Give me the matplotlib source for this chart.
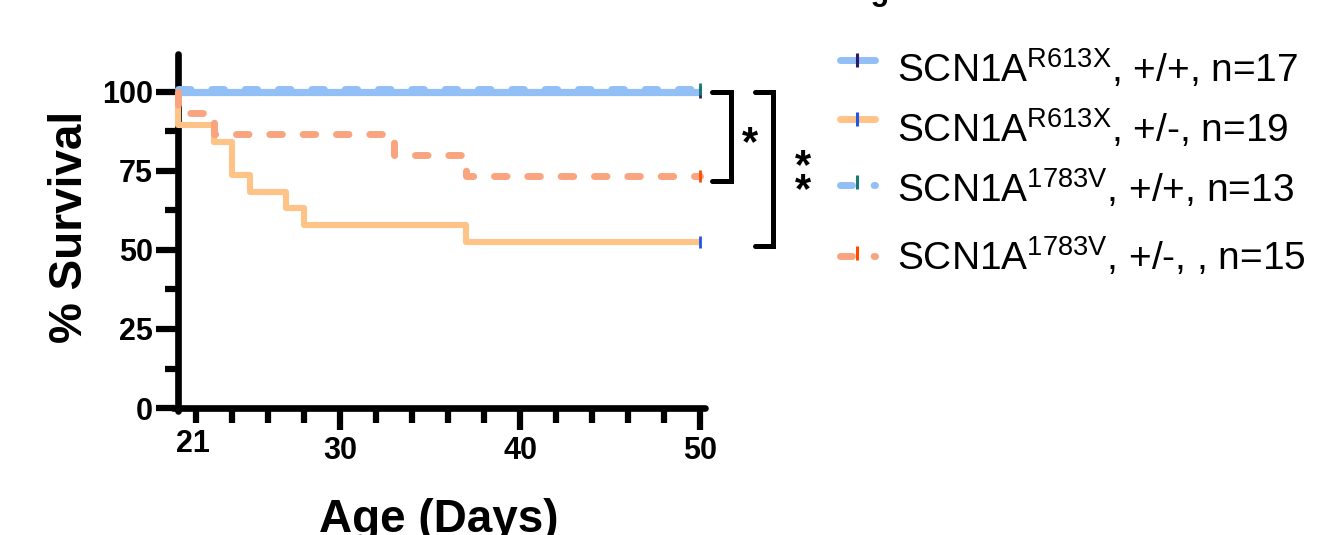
import matplotlib
matplotlib.use("Agg")
import matplotlib.pyplot as plt
import matplotlib.transforms as mtransforms
from matplotlib.ticker import FixedLocator

plt.rcParams['font.family'] = ['Liberation Sans', 'DejaVu Sans']
plt.rcParams['mathtext.fontset'] = 'custom'
plt.rcParams['mathtext.rm'] = 'Liberation Sans'
plt.rcParams['lines.scale_dashes'] = False

# --- data ---
groups = ['R613X +/+', 'R613X +/-', '1783V +/+', '1783V +/-']
days = [
    [21, 50],
    [21, 21, 23, 24, 25, 27, 28, 37, 50],
    [21, 50],
    [21, 21, 23, 33, 37, 50],
]
survival = [
    [100, 100],
    [100, 89.5, 84.2, 73.7, 68.4, 63.2, 57.9, 52.6, 52.6],
    [100, 100],
    [100, 93.3, 86.7, 80.0, 73.3, 73.3],
]
legend_labels = [
    r'SCN1A$^{\mathregular{R613X}}$, +/+, n=17',
    r'SCN1A$^{\mathregular{R613X}}$, +/-, n=19',
    r'SCN1A$^{\mathregular{1783V}}$, +/+, n=13',
    r'SCN1A$^{\mathregular{1783V}}$, +/-, , n=15',
]
# significance brackets: (group a, group b, label)
comparisons = [(0, 3, '*'), (0, 1, '*\n*')]

# --- styles ---
line_cols = ['#92BFF5', '#FFC387', '#92BFF5', '#F9A47F']
censor_cols = ['#2D1B66', '#1F55E8', '#177A78', '#FF4A00']
dashed = [False, False, True, True]
widths = [5.2, 4.4, 5.0, 5.0]
dash_pat = (0, (9, 15))

fig = plt.figure(figsize=(13.23, 5.35), dpi=100)
ax = fig.add_axes([0.1305, 0.2314, 0.4027, 0.668])
ax.set_xlim(20.7, 50.3)
ax.set_ylim(-1, 112)

lift = mtransforms.ScaledTranslation(0, 0.03, fig.dpi_scale_trans)
for i in range(4):
    tr = ax.transData + lift if i == 2 else ax.transData
    ls = dash_pat if dashed[i] else '-'
    ax.plot(days[i], survival[i], drawstyle='steps-post', color=line_cols[i],
            lw=widths[i], linestyle=ls, dash_capstyle='round',
            solid_capstyle='butt', transform=tr, clip_on=False, zorder=3 + (i % 2))
    ax.plot(days[i][-1], survival[i][-1], marker='|', ms=9, mew=2,
            color=censor_cols[i], transform=tr, clip_on=False, zorder=6)

# axes styling (Prism look)
for s in ['top', 'right']:
    ax.spines[s].set_visible(False)
ax.spines['left'].set_position(('data', 21))
ax.spines['bottom'].set_position(('data', 0))
for s in ['left', 'bottom']:
    ax.spines[s].set_linewidth(4.8)
    ax.spines[s].set_capstyle('round')

ax.set_yticks([0, 25, 50, 75, 100])
ax.yaxis.set_minor_locator(FixedLocator([12.5, 37.5, 62.5, 87.5]))
ax.set_xticks([30, 40, 50])
ax.xaxis.set_minor_locator(FixedLocator([22, 24, 26, 28, 32, 34, 36, 38, 42, 44, 46, 48]))
ax.tick_params(axis='both', which='major', width=4.5, labelsize=22, direction='out')
ax.tick_params(axis='both', which='minor', width=4.5, direction='out')
ax.tick_params(axis='y', which='major', length=16, pad=2)
ax.tick_params(axis='y', which='minor', length=9.5)
ax.tick_params(axis='x', which='major', length=16, pad=4)
ax.tick_params(axis='x', which='minor', length=10.5)
for lab in ax.get_xticklabels() + ax.get_yticklabels():
    lab.set_fontweight('bold')
ax.annotate('21', xy=(21.8, 0), xytext=(0, -15.4), textcoords='offset points',
            ha='center', va='top', fontsize=22, fontweight='bold')

# significance brackets
bracket_x = [(50.65, 51.7), (53.05, 54.05)]
star_pos = [(52.8, 83.6), (55.7, 72.4)]
for (a, b, lab), (x0, x1), (sx, sy) in zip(comparisons, bracket_x, star_pos):
    top = survival[a][-1]
    bot = survival[b][-1] - 1.5
    ax.plot([x0, x1, x1, x0], [top, top, bot, bot], color='black', lw=3.6,
            solid_capstyle='round', solid_joinstyle='miter', clip_on=False)
    ax.annotate(lab, xy=(sx, sy), xytext=(0, 0), textcoords='offset points',
                ha='center', va='center', fontsize=30, fontweight='bold',
                linespacing=0.47, annotation_clip=False)

fig.text(70 / 1323, 1 - 227 / 535, '% Survival', rotation=90, ha='center',
         va='center', fontsize=33, fontweight='bold')
fig.text(439 / 1323, 1 - 532 / 535, 'Age (Days)', ha='center', va='baseline',
         fontsize=33, fontweight='bold')

# legend drawn in pixel space
lax = fig.add_axes([0, 0, 1, 1], zorder=-1)
lax.set_xlim(0, 1323)
lax.set_ylim(535, 0)
lax.axis('off')
fig.text(835 / 1323, 1 - 0.3 / 535, 'Legend', ha='left', va='baseline',
         fontsize=22, fontweight='bold')
row_y = [60, 119, 185, 256]
text_base = [82, 142, 202, 270]
for i, y in enumerate(row_y):
    ls = (0, (8.6, 15.6)) if dashed[i] else '-'
    lax.plot([839.5, 874.5], [y, y], color=line_cols[i], lw=5, linestyle=ls,
             dash_capstyle='round', solid_capstyle='round')
    ty = y - 3 if dashed[i] else y
    lax.plot(856.7, ty, marker='|', ms=10, mew=2.2, color=censor_cols[i])
    lax.text(897, text_base[i], legend_labels[i], ha='left', va='baseline', fontsize=28)

fig.savefig('out.png', dpi=100)
